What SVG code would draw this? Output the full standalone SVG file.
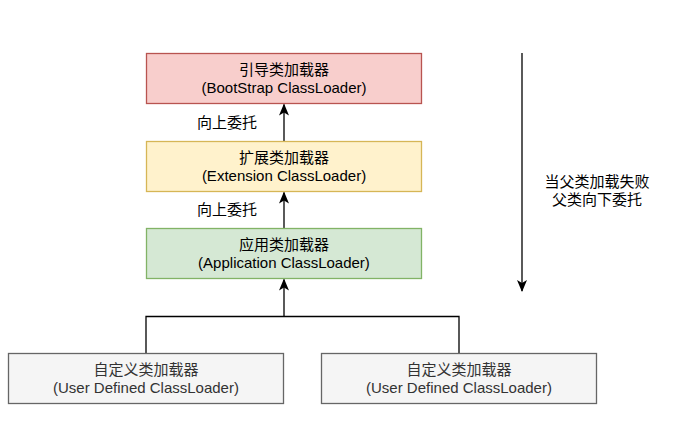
<svg xmlns="http://www.w3.org/2000/svg" width="676" height="445" viewBox="0 0 676 445">
<style>
text{font-family:"Liberation Sans",Arial,"Noto Sans CJK SC",sans-serif;font-size:15px;text-anchor:middle}
.box{stroke-width:1.3}
.edge{fill:none;stroke:#000;stroke-width:1.3}
</style>
<defs>
<marker id="arr" viewBox="0 0 12 10" refX="11" refY="5" markerWidth="12" markerHeight="10" markerUnits="userSpaceOnUse" orient="auto">
<path d="M0,0 L12,5 L0,10 L3,5 z" fill="#000"/>
</marker>
</defs>
<rect width="676" height="445" fill="#fff"/>
<g id="connectors">
<line class="edge" x1="284" y1="141.5" x2="284" y2="104.5" marker-end="url(#arr)"/>
<line class="edge" x1="284" y1="228.5" x2="284" y2="192.5" marker-end="url(#arr)"/>
<path class="edge" d="M146,353.5 V316.5 H459 V353.5"/>
<line class="edge" x1="284" y1="316.5" x2="284" y2="279.5" marker-end="url(#arr)"/>
<line class="edge" x1="522" y1="53" x2="522" y2="291" marker-end="url(#arr)"/>
<text x="227" y="128">向上委托</text>
<text x="227" y="215">向上委托</text>
<text x="597" y="187">当父类加载失败</text>
<text x="597" y="205">父类向下委托</text>
</g>
<g id="bootstrap">
<rect class="box" x="146.5" y="53.5" width="275" height="50" fill="#f8cecc" stroke="#b85450"/>
<text x="284" y="75">引导类加载器</text>
<text x="284" y="93">(BootStrap ClassLoader)</text>
</g>
<g id="extension">
<rect class="box" x="146.5" y="141.5" width="275" height="50" fill="#fff2cc" stroke="#d6b656"/>
<text x="284" y="163">扩展类加载器</text>
<text x="284" y="181">(Extension ClassLoader)</text>
</g>
<g id="application">
<rect class="box" x="146.5" y="228.5" width="275" height="50" fill="#d5e8d4" stroke="#82b366"/>
<text x="284" y="250">应用类加载器</text>
<text x="284" y="268">(Application ClassLoader)</text>
</g>
<g id="user1">
<rect class="box" x="8.5" y="353.5" width="275" height="50" fill="#f5f5f5" stroke="#666666"/>
<text x="146" y="375" fill="#333333">自定义类加载器</text>
<text x="146" y="393" fill="#333333">(User Defined ClassLoader)</text>
</g>
<g id="user2">
<rect class="box" x="321.5" y="353.5" width="275" height="50" fill="#f5f5f5" stroke="#666666"/>
<text x="459" y="375" fill="#333333">自定义类加载器</text>
<text x="459" y="393" fill="#333333">(User Defined ClassLoader)</text>
</g>
</svg>
